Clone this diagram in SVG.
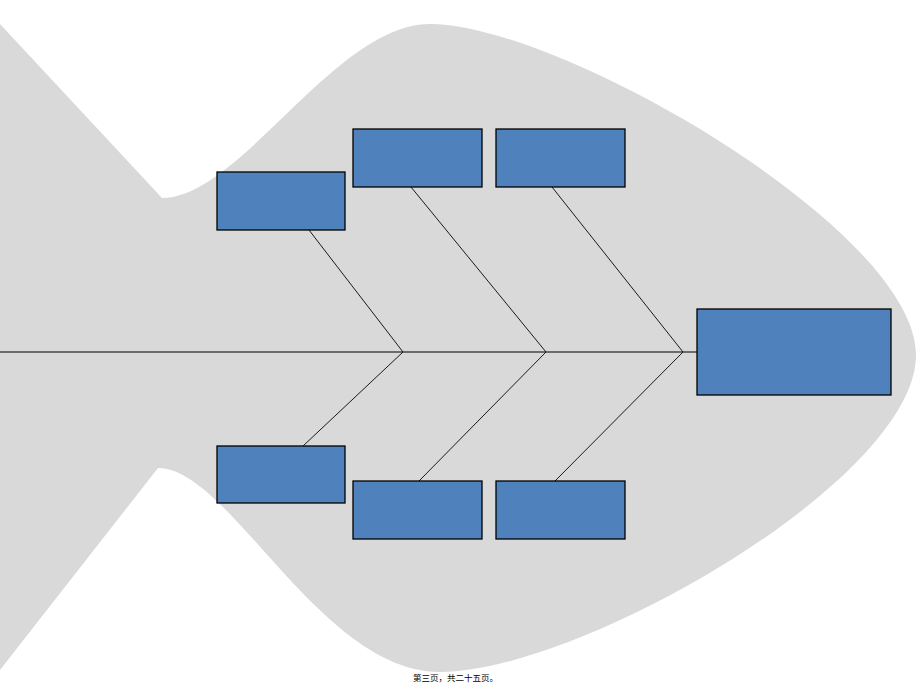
<svg xmlns="http://www.w3.org/2000/svg" width="920" height="690" viewBox="0 0 920 690">
<style>
.box{fill:#4f81bd;stroke:#000;stroke-width:1.3}
.bone{stroke:#1a1a1a;stroke-width:1;fill:none}
.spine{stroke:#000;stroke-width:1.2;fill:none}
.foot{font-family:"Noto Sans CJK SC","Liberation Sans",sans-serif;font-size:8.5px;fill:#000}
</style>
<rect width="920" height="690" fill="#fff"/>
<path id="fish" d="M0,24 L162,198 C240,198 335,24 430,24 C560,24 916,230 916,355 C916,480 580,672 440,672 C320,672 230,468 158,468 L0,670 Z" fill="#d9d9d9"/>
<g id="connectors">
<line class="spine" x1="0" y1="352" x2="697" y2="352"/>
<line class="bone" x1="309" y1="230" x2="403" y2="352"/>
<line class="bone" x1="411" y1="187" x2="546" y2="352"/>
<line class="bone" x1="552" y1="187" x2="683" y2="352"/>
<line class="bone" x1="403" y1="352" x2="303" y2="446"/>
<line class="bone" x1="546" y1="352" x2="419" y2="481"/>
<line class="bone" x1="683" y1="352" x2="555" y2="481"/>
</g>
<g id="cause1"><rect class="box" x="217" y="172" width="128" height="58"/></g>
<g id="cause2"><rect class="box" x="353" y="129" width="129" height="58"/></g>
<g id="cause3"><rect class="box" x="496" y="129" width="129" height="58"/></g>
<g id="effect"><rect class="box" x="697" y="309" width="194" height="86"/></g>
<g id="cause4"><rect class="box" x="217" y="446" width="128" height="57"/></g>
<g id="cause5"><rect class="box" x="353" y="481" width="129" height="58"/></g>
<g id="cause6"><rect class="box" x="496" y="481" width="129" height="58"/></g>
<text class="foot" x="455.5" y="681" text-anchor="middle">第三页，共二十五页。</text>
</svg>
